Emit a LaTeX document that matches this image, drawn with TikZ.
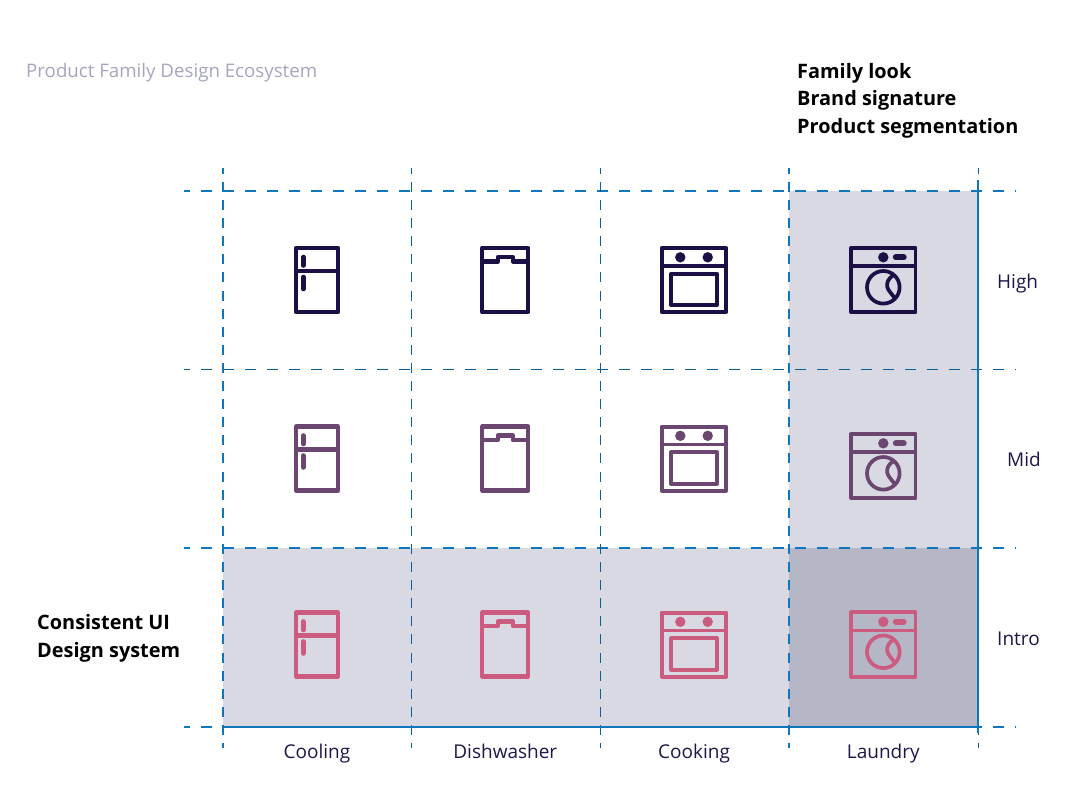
\documentclass[tikz,border=0pt]{standalone}
\usepackage{fontspec}
\setmainfont{Open Sans}
\definecolor{gridblue}{HTML}{0F75BC}
\definecolor{shadelight}{HTML}{D8D9E2}
\definecolor{shadedark}{HTML}{B5B7C6}
\definecolor{highcol}{HTML}{1B0F45}
\definecolor{midcol}{HTML}{6B4670}
\definecolor{introcol}{HTML}{CC5B80}
\definecolor{labelcol}{HTML}{1F1547}
\definecolor{titlecol}{HTML}{A5A6BD}
\tikzset{
  hthick/.style={gridblue,line width=2.6pt,dash pattern=on 11pt off 11pt,dash phase=5pt},
  hthin/.style={gridblue!80!black,line width=0.85pt,dash pattern=on 11pt off 11pt,dash phase=5pt},
  hbottom/.style={gridblue,line width=1.9pt,dash pattern=on 11pt off 11pt,dash phase=5pt},
  vthick/.style={gridblue,line width=2.6pt,dash pattern=on 10pt off 8.1pt,dash phase=4.2pt},
  vthin/.style={gridblue!80!black,line width=0.85pt,dash pattern=on 10pt off 8.1pt,dash phase=4.2pt},
  edgeline/.style={gridblue,line width=1.9pt},
  icontitle/.style={anchor=base west,font=\fontsize{18.7}{22}\selectfont,text=titlecol,inner sep=0pt},
  headtext/.style={anchor=base west,font=\fontsize{19.9}{24}\selectfont\bfseries,text=black,inner sep=0pt},
  cattext/.style={anchor=base,font=\fontsize{19}{22}\selectfont,text=labelcol,inner sep=0pt},
  rowtext/.style={anchor=base west,font=\fontsize{19}{22}\selectfont,text=labelcol,inner sep=0pt},
  iconhigh/.style={color=highcol},
  iconmid/.style={color=midcol},
  iconintro/.style={color=introcol},
  pics/fridge/.style={code={
    \draw[line width=4.2pt,line join=round] (-21,-32) rectangle (21,32);
    \draw[line width=4.2pt] (-21,-9) -- (21,-9);
    \draw[line width=4.6pt,line cap=round] (-13.7,-23) -- (-13.7,-14.5);
    \draw[line width=4.6pt,line cap=round] (-13.7,-3) -- (-13.7,9);
  }},
  pics/dishwasher/.style={code={
    \draw[line width=4.2pt,line join=round] (-23,-32) rectangle (23,32);
    \draw[line width=4.2pt,line join=round] (-23,-18.5) -- (-7.4,-18.5) -- (-7.4,-23) -- (7.4,-23) -- (7.4,-18.5) -- (23,-18.5);
  }},
  pics/oven/.style={code={
    \draw[line width=4pt,line join=round] (-32.2,-32) rectangle (32.2,32);
    \draw[line width=3.6pt] (-32.5,-14) -- (32.5,-14);
    \fill (-13.7,-22.7) circle (5.2);
    \fill (13.7,-22.7) circle (5.2);
    \draw[line width=4pt,line join=round] (-22.8,-6.2) rectangle (22.8,25);
  }},
  pics/washer/.style={code={
    \draw[line width=3.7pt,line join=round] (-32.2,-32.2) rectangle (32.2,32.2);
    \draw[line width=3.7pt] (-32.5,-14) -- (32.5,-14);
    \fill (0,-22.7) circle (5.2);
    \draw[line width=6pt,line cap=round] (12.5,-22.7) -- (20.4,-22.7);
    \draw[line width=3.7pt] (0,7.3) circle (16.3);
    \draw[line width=3.7pt] (10.5,-5) .. controls (5,-2) and (3,3) .. (4,7) .. controls (5,11) and (8,13) .. (11.5,18.3);
  }},
}
\begin{document}
\begin{tikzpicture}[x=1pt,y=-1pt]
  \useasboundingbox (0,0) rectangle (1086,810);

  % shaded cells
  \fill[shadelight] (789,191) rectangle (978,548);
  \fill[shadelight] (223,548) rectangle (789,727);
  \fill[shadedark] (789,548) rectangle (978,727);

  % grid
  \draw[hthick] (184,191) -- (1016,191);
  \draw[hthin] (184,369) -- (1016,369);
  \draw[hthick] (184,548) -- (1016,548);
  \draw[hbottom] (184,727) -- (1016,727);
  \draw[vthick] (223,168) -- (223,748);
  \draw[vthin] (411,168) -- (411,748);
  \draw[vthin] (600,168) -- (600,748);
  \draw[vthick] (789,168) -- (789,748);
  \draw[vthin] (978,168) -- (978,748);
  \draw[edgeline] (223,727) -- (978,727);
  \draw[edgeline] (978,180) -- (978,733);

  % icons
  \pic[iconhigh] at (317,280) {fridge};
  \pic[iconhigh] at (505.3,280) {dishwasher};
  \pic[iconhigh] at (694,280) {oven};
  \pic[iconhigh] at (883.3,280) {washer};
  \pic[iconmid] at (317,458.5) {fridge};
  \pic[iconmid] at (505.3,458.5) {dishwasher};
  \pic[iconmid] at (694,458.5) {oven};
  \pic[iconmid] at (883.3,466) {washer};
  \pic[iconintro] at (317,644.5) {fridge};
  \pic[iconintro] at (505.3,644.5) {dishwasher};
  \pic[iconintro] at (694,644.5) {oven};
  \pic[iconintro] at (883.3,644.5) {washer};

  % texts
  \node[icontitle] (title) at (26,78) {Product Family Design Ecosystem};
  \node[headtext] (family) at (797,79) {Family look};
  \node[headtext] (brand) at (797,106) {Brand signature};
  \node[headtext] (segment) at (797,134) {Product segmentation};
  \node[headtext] (consistent) at (37,629) {Consistent UI};
  \node[headtext] (system) at (37,657) {Design system};
  \node[rowtext] (high) at (997,288) {High};
  \node[rowtext] (mid) at (1007,466) {Mid};
  \node[rowtext] (intro) at (997,645) {Intro};
  \node[cattext] (cooling) at (317,758) {Cooling};
  \node[cattext] (dishwasher) at (505.3,758) {Dishwasher};
  \node[cattext] (cooking) at (694,758) {Cooking};
  \node[cattext] (laundry) at (883.3,758) {Laundry};
\end{tikzpicture}
\end{document}
